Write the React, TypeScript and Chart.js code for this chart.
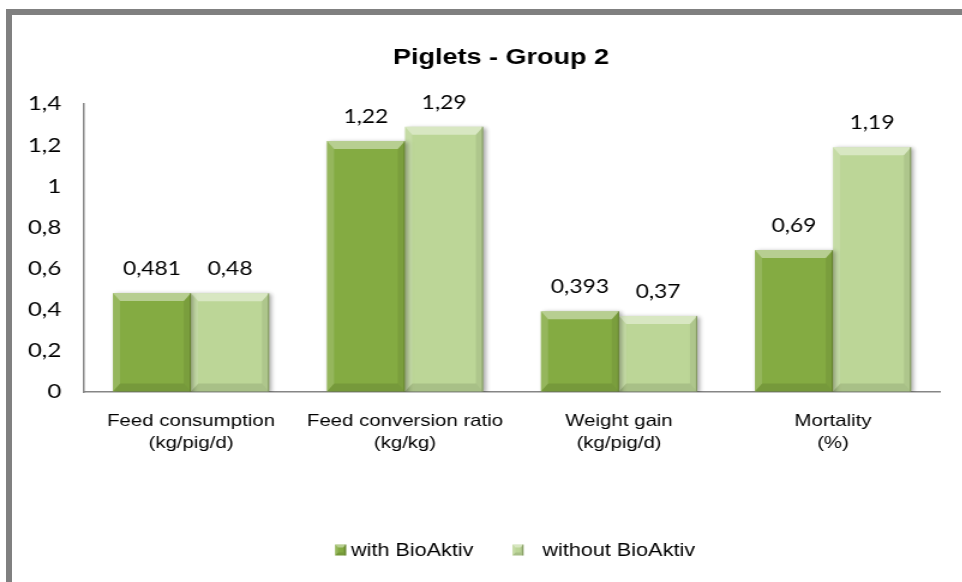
import React, { useEffect, useRef } from "react";
import { Chart, registerables } from "chart.js";

Chart.register(...registerables);

// ---------- data ----------
const chartTitle = "Piglets - Group 2";
const categories: string[][] = [
  ["Feed consumption", "(kg/pig/d)"],
  ["Feed conversion ratio", "(kg/kg)"],
  ["Weight gain", "(kg/pig/d)"],
  ["Mortality", "(%)"],
];
const seriesNames = ["with BioAktiv", "without BioAktiv"];
const withBioAktiv = [0.481, 1.22, 0.393, 0.69];
const withoutBioAktiv = [0.48, 1.29, 0.37, 1.19];
const yTickLabels = ["0", "0,2", "0,4", "0,6", "0,8", "1", "1,2", "1,4"];

// ---------- layout / style ----------
const SX = 1.2; // horizontal stretch of the reference picture
const VIEW_W = 962;
const H = 582;
const IW = 835; // internal canvas width (displayed IW*SX, cropped)
const DARK = "#84ab42";
const LIGHT = "#bcd697";
const TICK_FONT = "Lato, 'Open Sans', sans-serif";
const ARIAL = "'Liberation Sans', Arial, sans-serif";

const fmt = (v: number) => String(v).replace(".", ",");

function poly(ctx: CanvasRenderingContext2D, pts: number[][], fill: string) {
  ctx.beginPath();
  ctx.moveTo(pts[0][0], pts[0][1]);
  for (let i = 1; i < pts.length; i++) ctx.lineTo(pts[i][0], pts[i][1]);
  ctx.closePath();
  ctx.fillStyle = fill;
  ctx.fill();
}

function bevelBox(ctx: CanvasRenderingContext2D, l: number, t: number, r: number, b: number, bh: number, bv: number) {
  poly(ctx, [[l, t], [r, t], [r - bh, t + bv], [l + bh, t + bv]], "rgba(255,255,255,0.42)");
  poly(ctx, [[l, t], [l + bh, t + bv], [l + bh, b - bv], [l, b]], "rgba(255,255,255,0.14)");
  poly(ctx, [[r, t], [r, b], [r - bh, b - bv], [r - bh, t + bv]], "rgba(0,0,0,0.07)");
  poly(ctx, [[l, b], [l + bh, b - bv], [r - bh, b - bv], [r, b]], "rgba(0,0,0,0.10)");
  ctx.fillStyle = "rgba(60,80,20,0.4)";
  ctx.fillRect(r - 1, t, 1, b - t);
}

const barDecor = {
  id: "barDecor",
  beforeDatasetsDraw(chart: any) {
    const ctx = chart.ctx;
    ctx.save();
    ctx.shadowColor = "rgba(0,0,0,0.35)";
    ctx.shadowBlur = 4;
    ctx.shadowOffsetX = 2;
    ctx.shadowOffsetY = 1;
  },
  afterDatasetsDraw(chart: any) {
    const ctx = chart.ctx;
    ctx.restore();
    ctx.save();
    chart.data.datasets.forEach((ds: any, di: number) => {
      const meta = chart.getDatasetMeta(di);
      meta.data.forEach((el: any, i: number) => {
        const { x, y, base, width } = el.getProps(["x", "y", "base", "width"], true);
        bevelBox(ctx, x - width / 2, y, x + width / 2, base, 6, 8);
        ctx.fillStyle = "#000";
        ctx.font = `19px ${TICK_FONT}`;
        ctx.textAlign = "center";
        ctx.textBaseline = "middle";
        ctx.fillText(fmt(ds.data[i]), x, y - 24);
      });
    });
    ctx.restore();
  },
};

const customLegend = {
  id: "customLegend",
  afterDraw(chart: any) {
    const ctx = chart.ctx;
    ctx.save();
    ctx.font = `18px ${ARIAL}`;
    ctx.textBaseline = "middle";
    ctx.textAlign = "left";
    const box = 11 / SX;
    const boxH = 11;
    const gaps = [5 / SX, 19 / SX];
    const itemGap = 39 / SX;
    const widths = chart.data.datasets.map((ds: any, i: number) => box + gaps[i] + ctx.measureText(ds.label).width);
    const total = widths[0] + itemGap + widths[1];
    const cy = 550;
    let x = 515 / SX - total / 2;
    chart.data.datasets.forEach((ds: any, i: number) => {
      ctx.fillStyle = ds.backgroundColor;
      ctx.fillRect(x, cy - boxH / 2, box, boxH);
      bevelBox(ctx, x, cy - boxH / 2, x + box, cy + boxH / 2, 2.5, 3);
      ctx.fillStyle = "#000";
      ctx.fillText(ds.label, x + box + gaps[i], cy + 1);
      x += widths[i] + itemGap;
    });
    ctx.restore();
  },
};

export default function App() {
  const ref = useRef<HTMLCanvasElement>(null);

  useEffect(() => {
    const canvas = ref.current;
    if (!canvas) return;
    const chart = new Chart(canvas, {
      type: "bar",
      data: {
        labels: categories,
        datasets: [
          {
            label: seriesNames[0],
            data: withBioAktiv,
            backgroundColor: DARK,
            borderWidth: 0,
            categoryPercentage: 0.73,
            barPercentage: 1.0,
          },
          {
            label: seriesNames[1],
            data: withoutBioAktiv,
            backgroundColor: LIGHT,
            borderWidth: 0,
            categoryPercentage: 0.73,
            barPercentage: 1.0,
          },
        ],
      },
      options: {
        responsive: false,
        animation: false,
        devicePixelRatio: 1,
        layout: { padding: { left: 0, right: 0, top: 0, bottom: 0 } },
        plugins: {
          legend: { display: false },
          tooltip: { enabled: false },
          title: {
            display: true,
            text: chartTitle,
            color: "#000",
            font: { family: ARIAL, size: 22.5, weight: "bold" },
            padding: { top: 44, bottom: 33 },
          },
        },
        scales: {
          x: {
            grid: { display: true, drawOnChartArea: false, drawTicks: false },
            border: { display: true, color: "#868686", width: 1.5 },
            ticks: {
              color: "#000",
              font: { family: ARIAL, size: 17, lineHeight: 22 / 17 },
              padding: 18,
              maxRotation: 0,
              autoSkip: false,
            },
            afterFit: (scale: any) => {
              scale.height = H - 392;
            },
          },
          y: {
            min: 0,
            max: 1.4,
            grid: { display: true, drawOnChartArea: false, drawTicks: false },
            border: { display: true, color: "#868686", width: 1.5 },
            ticks: {
              stepSize: 0.2,
              color: "#000",
              font: { family: TICK_FONT, size: 20 },
              padding: 19,
              callback: (v: any) => yTickLabels[Math.round(Number(v) / 0.2)],
            },
            afterFit: (scale: any) => {
              scale.width = 70;
            },
          },
          yPad: {
            type: "linear",
            position: "right",
            display: true,
            grid: { display: false },
            border: { display: false },
            ticks: { display: false },
            afterFit: (scale: any) => {
              scale.width = IW - 940 / SX;
            },
          },
        },
      } as any,
      plugins: [barDecor, customLegend],
    });
    return () => chart.destroy();
  }, []);

  return (
    <div
      style={{
        position: "fixed",
        left: 0,
        top: 0,
        width: VIEW_W,
        height: H,
        background: "#fff",
        overflow: "hidden",
      }}
    >
      <canvas
        ref={ref}
        width={IW}
        height={H}
        style={{ width: IW * SX + "px", height: H + "px", display: "block" }}
      />
      <div
        style={{
          position: "absolute",
          left: 6,
          top: 9,
          width: VIEW_W + 20,
          height: H + 20,
          borderTop: "6px solid #808080",
          borderLeft: "6px solid #808080",
          pointerEvents: "none",
        }}
      />
    </div>
  );
}
